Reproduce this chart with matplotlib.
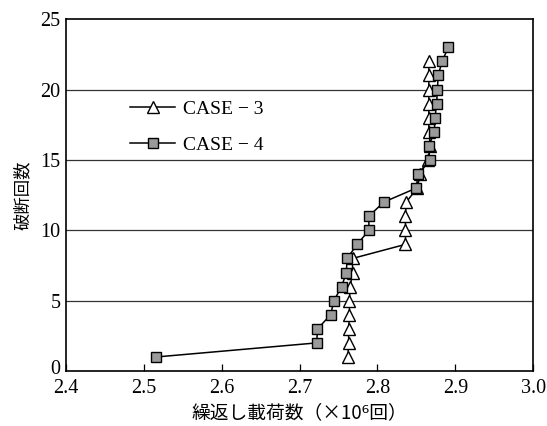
import matplotlib.pyplot as plt
from matplotlib.transforms import ScaledTranslation

# data
case3_x = [2.762, 2.763, 2.763, 2.764, 2.764, 2.765, 2.768, 2.768, 2.836, 2.836, 2.836,
           2.837, 2.851, 2.855, 2.865, 2.868, 2.866, 2.866, 2.866, 2.866, 2.866, 2.866]
case3_y = list(range(1, 23))
case4_x = [2.516, 2.722, 2.723, 2.740, 2.744, 2.754, 2.760, 2.761, 2.774, 2.789, 2.789,
           2.808, 2.850, 2.852, 2.867, 2.866, 2.873, 2.874, 2.876, 2.877, 2.878, 2.883, 2.891]
case4_y = list(range(1, 24))
xticks = [2.4, 2.5, 2.6, 2.7, 2.8, 2.9, 3.0]
yticks = [0, 5, 10, 15, 20, 25]

plt.rcParams['font.family'] = ['Liberation Serif', 'DejaVu Serif']
jp = ['Noto Sans CJK JP', 'DejaVu Sans']

fig = plt.figure(figsize=(5.47, 4.26), dpi=100)
ax = fig.add_axes([0.1207, 0.129, 0.854, 0.826])

for y in yticks[1:-1]:
    ax.axhline(y, color='#333333', lw=0.9, zorder=1)

ax.plot(case3_x, case3_y, '-', color='black', lw=1.1, marker='^', ms=9,
        mfc='white', mec='black', mew=1.0, label='CASE − 3', zorder=3)
ax.plot(case4_x, case4_y, '-', color='black', lw=1.1, marker='s', ms=7.5,
        mfc='#9a9a9a', mec='black', mew=1.0, label='CASE − 4', zorder=4)

ax.set_xlim(2.4, 3.0)
ax.set_ylim(0, 25)
ax.set_xticks(xticks)
ax.set_xticklabels(['%.1f' % v for v in xticks])
ax.set_yticks(yticks)
ax.tick_params(direction='in', length=5, width=0.9, labelsize=14.5)
ax.tick_params(axis='x', pad=6)
ax.tick_params(axis='y', length=0, pad=4)
for s in ax.spines.values():
    s.set_linewidth(1.2)

# lift the "0" label a little so it clears "2.4"
lbl0 = ax.yaxis.get_major_ticks()[0].label1
lbl0.set_transform(lbl0.get_transform() + ScaledTranslation(0, 3 / 72, fig.dpi_scale_trans))

ax.set_xlabel('繰返し載荷数（×10⁶回）', family=jp, fontsize=13.5, labelpad=3)
ax.set_ylabel('破断回数', family=jp, fontsize=12.5, labelpad=6)

ax.legend(loc='upper left', bbox_to_anchor=(0.1, 0.82), frameon=False,
          fontsize=14, handlelength=2.3, labelspacing=0.95, handletextpad=0.4)

fig.savefig('out.png', dpi=100)
